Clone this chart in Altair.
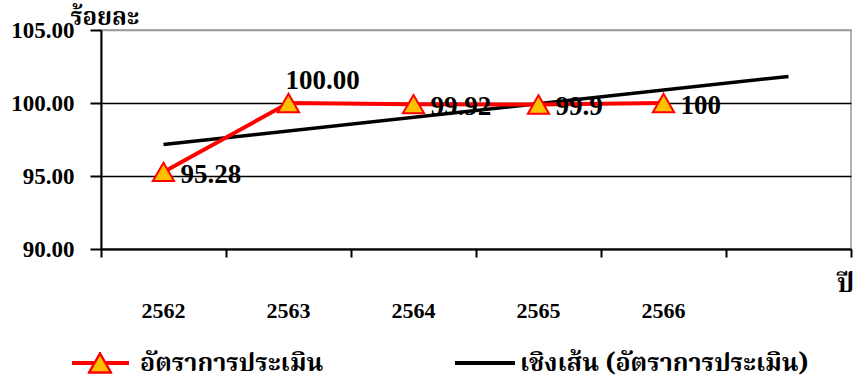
import altair as alt
import pandas as pd

# Assessment rate by fiscal year (Thai Buddhist era)
years = ["2562", "2563", "2564", "2565", "2566"]
rates = [95.28, 100.00, 99.92, 99.9, 100]
rate_labels = ["95.28", "100.00", "99.92", "99.9", "100"]
positions = [1, 2, 3, 4, 5]

series_name = "อัตราการประเมิน"
trend_name = "เชิงเส้น (อัตราการประเมิน)"
y_title = "ร้อยละ"
x_title = "ปี"

NUM_FONT = "Liberation Serif"
THAI_FONT = "Noto Serif Thai, Noto Sans Thai Looped, Noto Sans Thai"

df = pd.DataFrame({"pos": positions, "year": years, "rate": rates, "label": rate_labels})

x_scale = alt.Scale(domain=[0.5, 6.5], nice=False, zero=False)
y_scale = alt.Scale(domain=[90, 105], nice=False, zero=False)

x_axis = alt.Axis(
    values=[0.5, 1.5, 2.5, 3.5, 4.5, 5.5, 6.5], labels=False, grid=False,
    domainColor="black", domainWidth=2, tickColor="black", tickWidth=2, tickSize=8,
    title=x_title, titleFont=THAI_FONT, titleFontSize=26, titleFontWeight="bold",
    titleX=744, titleY=34, titleBaseline="middle", titleAlign="center", titleColor="black",
)
y_axis = alt.Axis(
    values=[90, 95, 100, 105], format=".2f",
    labelFont=NUM_FONT, labelFontSize=23, labelFontWeight="bold", labelColor="black",
    labelPadding=16, tickSize=11, tickColor="black", tickWidth=2,
    domainColor="black", domainWidth=2,
    gridColor={"condition": {"test": "datum.value == 105", "value": "#999999"}, "value": "black"},
    gridWidth=1.5,
    title=y_title, titleFont=THAI_FONT, titleFontSize=24, titleFontWeight="bold",
    titleAngle=0, titleX=-31, titleY=-6, titleAlign="left", titleBaseline="alphabetic",
    titleColor="black",
)

base = alt.Chart(df)

trend = base.transform_regression("pos", "rate", extent=[1, 6]).mark_line(
    color="black", strokeWidth=3.5, clip=False
).encode(
    x=alt.X("pos:Q", scale=x_scale, axis=x_axis),
    y=alt.Y("rate:Q", scale=y_scale, axis=y_axis),
)

line = base.mark_line(color="#ff0000", strokeWidth=4).encode(
    x=alt.X("pos:Q", scale=x_scale), y=alt.Y("rate:Q", scale=y_scale)
)
marker_style = dict(shape="triangle-up", size=450, filled=True, fill="#ffc000",
                    stroke="#ff0000", strokeWidth=2, opacity=1)
points = base.mark_point(**marker_style).encode(
    x=alt.X("pos:Q", scale=x_scale), y=alt.Y("rate:Q", scale=y_scale)
)

label_style = dict(font=NUM_FONT, fontSize=27, fontWeight="bold", color="black")
labels_right = base.transform_filter("datum.year != '2563'").mark_text(
    align="left", baseline="middle", dx=17, dy=3, **label_style
).encode(x=alt.X("pos:Q", scale=x_scale), y=alt.Y("rate:Q", scale=y_scale), text="label:N")
labels_top = base.transform_filter("datum.year == '2563'").mark_text(
    align="left", baseline="middle", dx=-3, dy=-22, **label_style
).encode(x=alt.X("pos:Q", scale=x_scale), y=alt.Y("rate:Q", scale=y_scale), text="label:N")

year_labels = base.mark_text(
    font=NUM_FONT, fontSize=22, fontWeight="bold", color="black", baseline="middle"
).encode(x=alt.X("pos:Q", scale=x_scale), y=alt.value(281), text="year:N")

# Legend drawn below the plot
legend_y = 333
leg_red = alt.Chart(df).mark_rule(color="#ff0000", strokeWidth=4).encode(
    x=alt.value(-29), x2=alt.value(28), y=alt.value(legend_y)
)
leg_tri = alt.Chart(df).mark_point(**marker_style).encode(x=alt.value(-1), y=alt.value(legend_y))
leg_black = alt.Chart(df).mark_rule(color="black", strokeWidth=4).encode(
    x=alt.value(354), x2=alt.value(414), y=alt.value(legend_y)
)
leg_text = alt.Chart(pd.DataFrame({"t": [series_name, trend_name], "px": [39, 419]})).mark_text(
    font=THAI_FONT, fontSize=25, fontWeight="bold", color="black", align="left", baseline="middle"
).encode(x=alt.X("px:Q", scale=None), y=alt.value(legend_y), text="t:N")

chart = alt.layer(
    trend, line, points, labels_right, labels_top, year_labels,
    leg_red, leg_tri, leg_black, leg_text,
).properties(
    width=750, height=219,
    autosize=alt.AutoSizeParams(type="none"),
    padding={"left": 101, "top": 30, "right": 6, "bottom": 136},
    background="white",
).configure_view(stroke="#999999", strokeWidth=1.5)

chart.save("out.html", embed_options={"renderer": "svg", "actions": False})
